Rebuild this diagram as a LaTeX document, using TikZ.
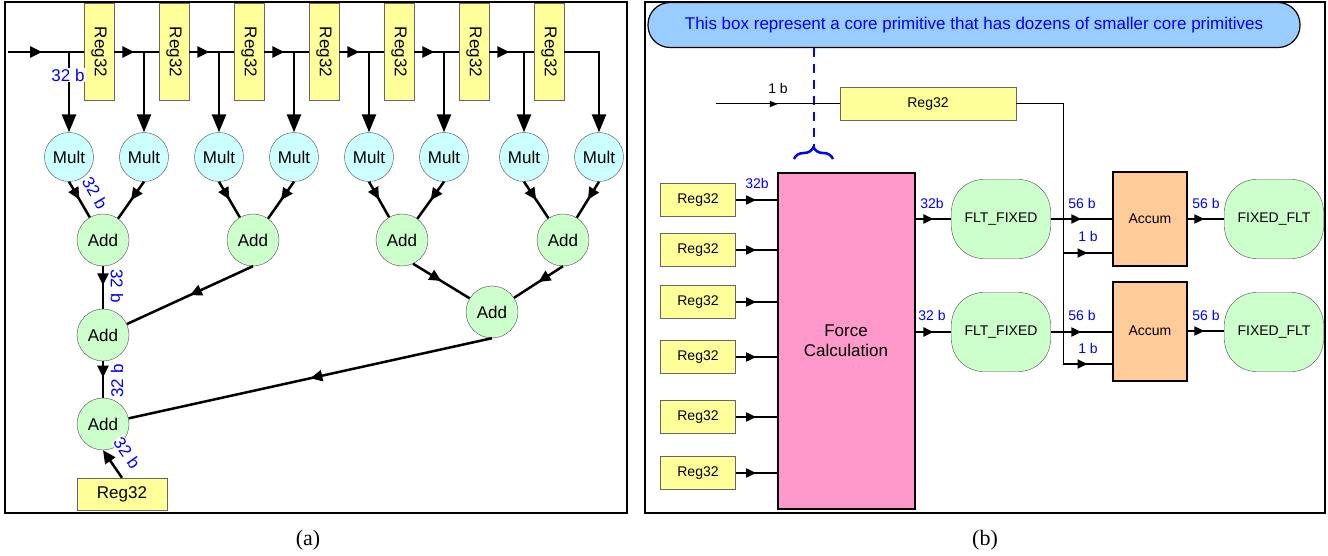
\documentclass[tikz,border=0pt]{standalone}
\usepackage{fontspec}
\setmainfont{Liberation Sans}
\newfontfamily\capfont{Liberation Serif}
\usetikzlibrary{arrows.meta, decorations.markings, decorations.pathreplacing}

\definecolor{regyellow}{HTML}{FFFF99}
\definecolor{multcyan}{HTML}{CCFFFF}
\definecolor{addgreen}{HTML}{CCFFCC}
\definecolor{forcepink}{HTML}{FF99CC}
\definecolor{accumorange}{HTML}{FFCC99}
\definecolor{noteblue}{HTML}{99CCFF}
\definecolor{bitblue}{HTML}{0000FF}

\begin{document}
\begin{tikzpicture}[
    x=1pt, y=-1pt,
    font=\fontsize{17}{20}\selectfont,
    reg/.style={rectangle, draw=black!60, fill=regyellow, minimum width=30pt, minimum height=97pt, inner sep=0pt},
    regb/.style={rectangle, draw=black!60, fill=regyellow, minimum width=75pt, minimum height=33pt, inner sep=0pt, font=\fontsize{14}{16}\selectfont},
    mult/.style={circle, draw=black!70, fill=multcyan, minimum size=49pt, inner sep=0pt},
    add/.style={circle, draw=black!70, fill=addgreen, minimum size=52pt, inner sep=0pt},
    force/.style={rectangle, draw, line width=2pt, fill=forcepink, align=center},
    conv/.style={rectangle, rounded corners=32pt, draw=black!70, fill=addgreen, minimum width=99pt, minimum height=79pt, inner sep=0pt, font=\fontsize{14}{16}\selectfont},
    accum/.style={rectangle, draw, line width=2pt, fill=accumorange, minimum width=74pt, inner sep=0pt, font=\fontsize{14}{16}\selectfont},
    note/.style={rectangle, rounded corners=22pt, draw, line width=1.2pt, fill=noteblue, text=bitblue, minimum width=652pt, minimum height=45pt},
    bits/.style={text=bitblue, inner sep=1pt},
    bitsb/.style={text=bitblue, inner sep=1pt, font=\fontsize{14}{16}\selectfont},
    wire/.style={line width=2.5pt},
    medwire/.style={line width=2pt},
    thinwire/.style={line width=1pt},
    tap/.style={wire, -{Triangle[length=18pt,width=14pt]}},
    midarrow/.style={postaction={decorate}, decoration={markings, mark=at position #1 with {\arrow{Triangle[length=12pt,width=11pt]}}}},
    midarrow/.default=0.5,
    midarrowb/.style={postaction={decorate}, decoration={markings, mark=at position #1 with {\arrow{Triangle[length=10pt,width=9pt]}}}},
    midarrowb/.default=0.5,
    frame/.style={line width=2pt}
]
    \useasboundingbox (0,0) rectangle (1328,556);

    % ---------------- (a) adder tree ----------------
    \draw[frame] (5,2) rectangle (627,513);

    % delay line of registers
    \foreach \i/\x in {1/99, 2/174, 3/249, 4/324, 5/399, 6/474, 7/549}
        \node[reg] (r\i) at (\x,52) {\rotatebox{-90}{Reg32}};

    % multipliers and their taps
    \foreach \i/\x in {1/69, 2/144, 3/219, 4/294, 5/369, 6/444, 7/524, 8/599} {
        \node[mult] (m\i) at (\x,157) {Mult};
        \coordinate (t\i) at (\x,52);
    }

    % adders
    \node[add] (a1) at (103,240) {Add};
    \node[add] (a2) at (253,240) {Add};
    \node[add] (a3) at (402,240) {Add};
    \node[add] (a4) at (563,240) {Add};
    \node[add] (a5) at (103,335) {Add};
    \node[add] (a6) at (492,312) {Add};
    \node[add] (a7) at (103,424) {Add};

    % output register
    \node[reg, minimum width=90pt, minimum height=32pt] (rout) at (122,494) {Reg32};

    % main line
    \coordinate (in) at (8,52);
    \draw[wire, midarrow=0.45] (in) -- (r1.west);
    \foreach \i/\j in {1/2, 2/3, 3/4, 4/5, 5/6, 6/7}
        \draw[wire, midarrow=0.45] (r\i.east) -- (r\j.west);
    \draw[tap] (r7.east) -| (m8);
    \foreach \i in {1,...,7}
        \draw[tap] (t\i) -- (m\i);

    % tree
    \draw[wire, midarrow=0.5] (m1.south) -- (a1);
    \draw[wire, midarrow=0.5] (m2.south) -- (a1);
    \draw[wire, midarrow=0.5] (m3.south) -- (a2);
    \draw[wire, midarrow=0.5] (m4.south) -- (a2);
    \draw[wire, midarrow=0.5] (m5.south) -- (a3);
    \draw[wire, midarrow=0.5] (m6.south) -- (a3);
    \draw[wire, midarrow=0.5] (m7.south) -- (a4);
    \draw[wire, midarrow=0.5] (m8.south) -- (a4);
    \draw[wire, midarrow=0.45] (a1) -- (a5);
    \draw[wire, midarrow=0.5] (a2.south) -- (a5);
    \draw[wire, midarrow=0.5] (a3.-65) -- (a6);
    \draw[wire, midarrow=0.5] (a4.south) -- (a6);
    \draw[wire, midarrow=0.45] (a5) -- (a7);
    \draw[wire, midarrow=0.5] (a6.south) -- (a7);
    \draw[wire, -{Triangle[length=13pt,width=12pt]}] (rout.north) -- (a7.south);

    % widths
    \node[bits, fill=white] (w1) at (68,75) {32 b};
    \node[bits, rotate=-60] (w2) at (95,193) {32 b};
    \node[bits, rotate=-90] (w3) at (117,286) {32 b};
    \node[bits, rotate=90] (w4) at (117,381) {32 b};
    \node[bits, rotate=-55, fill=white] (w5) at (127,453) {32 b};

    \node[font=\capfont\fontsize{22}{24}\selectfont] (capa) at (308,540) {(a)};

    % ---------------- (b) core primitive ----------------
    \draw[frame] (645,2) rectangle (1325,513);

    \node[note] (note) at (974,25) {This box represent a core primitive that has dozens of smaller core primitives};
    \coordinate (br) at (814,147);
    \coordinate (brl) at (794,159);
    \coordinate (brr) at (833,159);
    \draw[bitblue, line width=2pt, dash pattern=on 9pt off 7pt] (note.south -| br) -- (br);
    \draw[bitblue, line width=2.5pt, decorate, decoration={brace, amplitude=12pt}] (brl) -- (brr);

    % enable register
    \node[regb, minimum width=176pt] (rt) at (928,104) {Reg32};
    \coordinate (en) at (716,104);
    \draw[thinwire, postaction={decorate}, decoration={markings, mark=at position 0.5 with {\arrow{Triangle[length=8pt,width=6pt]}}}] (en) -- (rt.west);
    \node[font=\fontsize{14}{16}\selectfont] (en1b) at (778,88) {1 b};

    % input registers and force calculation
    \foreach \i/\y in {1/200, 2/250, 3/302, 4/357, 5/417, 6/473}
        \node[regb] (rr\i) at (698,\y) {Reg32};
    \node[force, minimum width=137pt, minimum height=335pt, font=\fontsize{17}{20}\selectfont] (force) at (846,341) {Force\\Calculation};
    \foreach \i in {1,...,6}
        \draw[medwire, midarrowb=0.5] (rr\i.east) -- (rr\i.east -| force.west);
    \node[bitsb] (w6) at (757,183) {32b};

    % converters and accumulators
    \node[conv] (fl1) at (1001,219) {FLT\_FIXED};
    \node[conv] (fl2) at (1001,332) {FLT\_FIXED};
    \node[accum, minimum height=93pt] (acc1) at (1150,219) {Accum};
    \node[accum, minimum height=99pt] (acc2) at (1150,331) {Accum};
    \node[conv] (fx1) at (1274,219) {FIXED\_FLT};
    \node[conv] (fx2) at (1274,332) {FIXED\_FLT};

    \draw[medwire, midarrowb=0.5] (force.east |- fl1) -- (fl1);
    \draw[medwire, midarrowb=0.5] (force.east |- fl2) -- (fl2);
    \draw[medwire, midarrowb=0.5] (fl1.east) -- (fl1.east -| acc1.west);
    \draw[medwire, midarrowb=0.5] (fl2.east) -- (fl2.east -| acc2.west);
    \draw[medwire, midarrowb=0.45] (acc1.east) -- (acc1.east -| fx1.west);
    \draw[medwire, midarrowb=0.45] (acc2.east) -- (acc2.east -| fx2.west);

    % enable fan-out
    \coordinate (b1) at (1063,253);
    \coordinate (b2) at (1063,364);
    \draw[thinwire] (rt.east) -| (b2);
    \draw[medwire, midarrowb=0.5] (b1) -- (b1 -| acc1.west);
    \draw[medwire, midarrowb=0.5] (b2) -- (b2 -| acc2.west);

    \node[bitsb] (w7) at (932,203) {32b};
    \node[bitsb] (w8) at (932,315) {32 b};
    \node[bitsb] (w9) at (1082,203) {56 b};
    \node[bitsb] (w10) at (1082,315) {56 b};
    \node[bitsb] (w11) at (1088,236) {1 b};
    \node[bitsb] (w12) at (1088,348) {1 b};
    \node[bitsb] (w13) at (1206,203) {56 b};
    \node[bitsb] (w14) at (1206,315) {56 b};

    \node[font=\capfont\fontsize{22}{24}\selectfont] (capb) at (985,540) {(b)};
\end{tikzpicture}
\end{document}
